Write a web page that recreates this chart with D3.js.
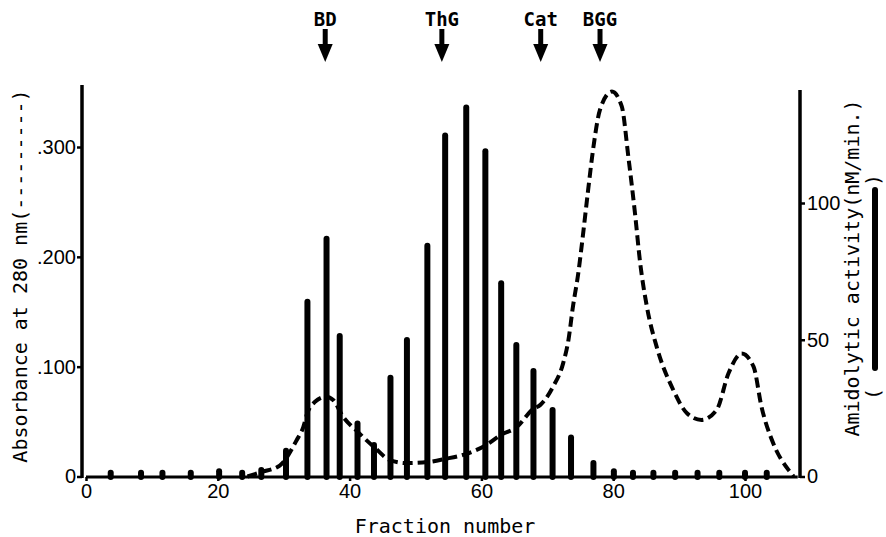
<!DOCTYPE html>
<html lang="en">
<head>
<meta charset="UTF-8">
<script src="https://cdn.jsdelivr.net/npm/d3@7/dist/d3.min.js"></script>
<title>Fraction profile</title>
<style>
  body { margin: 0; background: #fff; }
  svg { display: block; }
  .tick text { font-family: "Liberation Sans", Arial, sans-serif; font-size: 20px; fill: #000; }
  .tick line { stroke: #000; stroke-width: 2.5px; }
  .title { font-family: "DejaVu Sans Mono", monospace; font-size: 20px; fill: #000; }
  .marker { font-family: "DejaVu Sans Mono", monospace; font-size: 19px; font-weight: bold; fill: #000; }
</style>
</head>
<body>
<svg id="chart" width="886" height="537"></svg>
<script>
// amidolytic activity (nM/min.), one bar per assayed fraction
var barFractions = [3.75, 8.35, 11.6, 15.9, 20.2, 23.7, 26.6, 30.35, 33.6, 36.5, 38.5, 41.2, 43.7, 46.2,
                    48.7, 51.8, 54.5, 57.7, 60.6, 63.0, 65.3, 67.9, 70.8, 73.6, 77.0, 80.1, 83.0, 86.1,
                    89.4, 92.8, 96.1, 100.0, 103.3];
var barActivity  = [2.5, 2.5, 2.5, 2.5, 3, 2.5, 3.5, 10.5, 65, 88, 52.5, 20.5, 12.6, 37.2,
                    51, 85.5, 125.8, 136, 120, 71.8, 49.2, 39.7, 25.4, 15.4, 6, 3, 2.5, 2.5,
                    2.5, 2.5, 2.5, 2.5, 2.5];

// absorbance at 280 nm (dashed curve)
var absFractions = [24.5, 26.6, 29.4, 31.96, 32.97, 33.6, 34.75, 36.47, 37.5, 39.0, 41.2, 43.7, 46.2,
                    48.7, 51.8, 54.5, 57.7, 60.6, 63.0, 65.3, 67.9, 68.9, 70.8, 72.4, 73.2, 73.9,
                    74.7, 75.5, 76.2, 77.0, 78.0, 79.8, 81.3, 82.3, 83.3, 84.1, 85.1, 86.6, 89.1,
                    91.2, 93.4, 95.7, 97.5, 99.5, 101.3, 102.5, 104.3, 106.6, 107.4];
var absValues    = [0, 0.004, 0.010, 0.033, 0.045, 0.058, 0.068, 0.0727, 0.0697, 0.0545, 0.0408, 0.0269, 0.0147,
                    0.0122, 0.0131, 0.016, 0.0206, 0.0282, 0.038, 0.0446, 0.0616, 0.065, 0.081, 0.103, 0.124, 0.155,
                    0.185, 0.2245, 0.261, 0.300, 0.334, 0.3505, 0.337, 0.291, 0.240, 0.194, 0.155, 0.118, 0.079,
                    0.0576, 0.0515, 0.0606, 0.094, 0.112, 0.100, 0.0636, 0.030, 0.006, 0];

// marker proteins (arrows on top)
var markerLabels    = ["BD", "ThG", "Cat", "BGG"];
var markerFractions = [36.3, 54.0, 69.0, 78.0];

var xTicks = [0, 20, 40, 60, 80, 100];
var leftTicks = [0, 0.1, 0.2, 0.3];
var rightTicks = [0, 50, 100];

var svg = d3.select("#chart");

var x = d3.scaleLinear().domain([0, 100]).range([86, 745]);
var yL = d3.scaleLinear().domain([0, 0.3]).range([476.5, 147]);
var yR = d3.scaleLinear().domain([0, 100]).range([476.5, 203]);

var baseY = 477, leftX = 82, rightX = 800;

// x axis
var xAxis = svg.append("g")
    .attr("transform", "translate(0," + baseY + ")")
    .call(d3.axisBottom(x).tickValues(xTicks).tickSize(4).tickPadding(3).tickSizeOuter(0));
xAxis.select(".domain").remove();
svg.append("line")
    .attr("x1", x(0)).attr("x2", x(108)).attr("y1", baseY).attr("y2", baseY)
    .attr("stroke", "#000").attr("stroke-width", 3);

// left axis (absorbance)
var lAxis = svg.append("g")
    .attr("transform", "translate(" + leftX + ",0)")
    .call(d3.axisLeft(yL).tickValues(leftTicks).tickSize(5).tickPadding(1)
        .tickFormat(function(d) { return d === 0 ? "0" : d3.format(".3f")(d).replace(/^0/, ""); }));
lAxis.select(".domain").remove();
svg.append("line")
    .attr("x1", leftX).attr("x2", leftX).attr("y1", 85).attr("y2", baseY + 1)
    .attr("stroke", "#000").attr("stroke-width", 3.5);

// right axis (activity)
var rAxis = svg.append("g")
    .attr("transform", "translate(" + rightX + ",0)")
    .call(d3.axisRight(yR).tickValues(rightTicks).tickSize(5).tickPadding(2));
rAxis.select(".domain").remove();
svg.append("line")
    .attr("x1", rightX).attr("x2", rightX).attr("y1", 90).attr("y2", baseY + 1)
    .attr("stroke", "#000").attr("stroke-width", 3.5);

// bars
var bars = barFractions.map(function(f, i) { return [f, barActivity[i]]; });
svg.append("g").selectAll("line")
    .data(bars)
    .join("line")
    .attr("x1", function(d) { return x(d[0]); })
    .attr("x2", function(d) { return x(d[0]); })
    .attr("y1", baseY)
    .attr("y2", function(d) { return yR(d[1]) + 3; })
    .attr("stroke", "#000")
    .attr("stroke-width", 6)
    .attr("stroke-linecap", "round");

// absorbance curve
var absPts = absFractions.map(function(f, i) { return [f, absValues[i]]; });
var line = d3.line()
    .x(function(d) { return x(d[0]); })
    .y(function(d) { return yL(d[1]); })
    .curve(d3.curveMonotoneX);
svg.append("path")
    .attr("d", line(absPts))
    .attr("fill", "none")
    .attr("stroke", "#000")
    .attr("stroke-width", 4)
    .attr("stroke-dasharray", "10,5");

// marker arrows
var markers = svg.append("g").selectAll("g")
    .data(markerLabels.map(function(l, i) { return { label: l, f: markerFractions[i] }; }))
    .join("g")
    .attr("transform", function(d) { return "translate(" + x(d.f) + ",0)"; });
markers.append("text")
    .attr("class", "marker")
    .attr("text-anchor", "middle")
    .attr("y", 26)
    .text(function(d) { return d.label; });
markers.append("line")
    .attr("y1", 29).attr("y2", 46)
    .attr("stroke", "#000").attr("stroke-width", 5);
markers.append("path")
    .attr("d", "M-7.5,44L7.5,44L0,62Z")
    .attr("fill", "#000");

// axis titles
svg.append("text")
    .attr("class", "title")
    .attr("text-anchor", "middle")
    .attr("x", 445).attr("y", 533)
    .text("Fraction number");

svg.append("text")
    .attr("class", "title")
    .attr("text-anchor", "middle")
    .attr("transform", "translate(27,276) rotate(-90)")
    .text("Absorbance at 280 nm(---------)");

svg.append("text")
    .attr("class", "title")
    .attr("text-anchor", "middle")
    .attr("transform", "translate(859,268) rotate(-90)")
    .text("Amidolytic activity(nM/min.)");

// legend key for the bars
svg.append("text")
    .attr("class", "title")
    .attr("text-anchor", "middle")
    .attr("transform", "translate(880,394) rotate(-90)")
    .text("(");
svg.append("text")
    .attr("class", "title")
    .attr("text-anchor", "middle")
    .attr("transform", "translate(880,180) rotate(-90)")
    .text(")");
svg.append("line")
    .attr("x1", 875).attr("x2", 875).attr("y1", 190).attr("y2", 368)
    .attr("stroke", "#000").attr("stroke-width", 6).attr("stroke-linecap", "round");
</script>
</body>
</html>
